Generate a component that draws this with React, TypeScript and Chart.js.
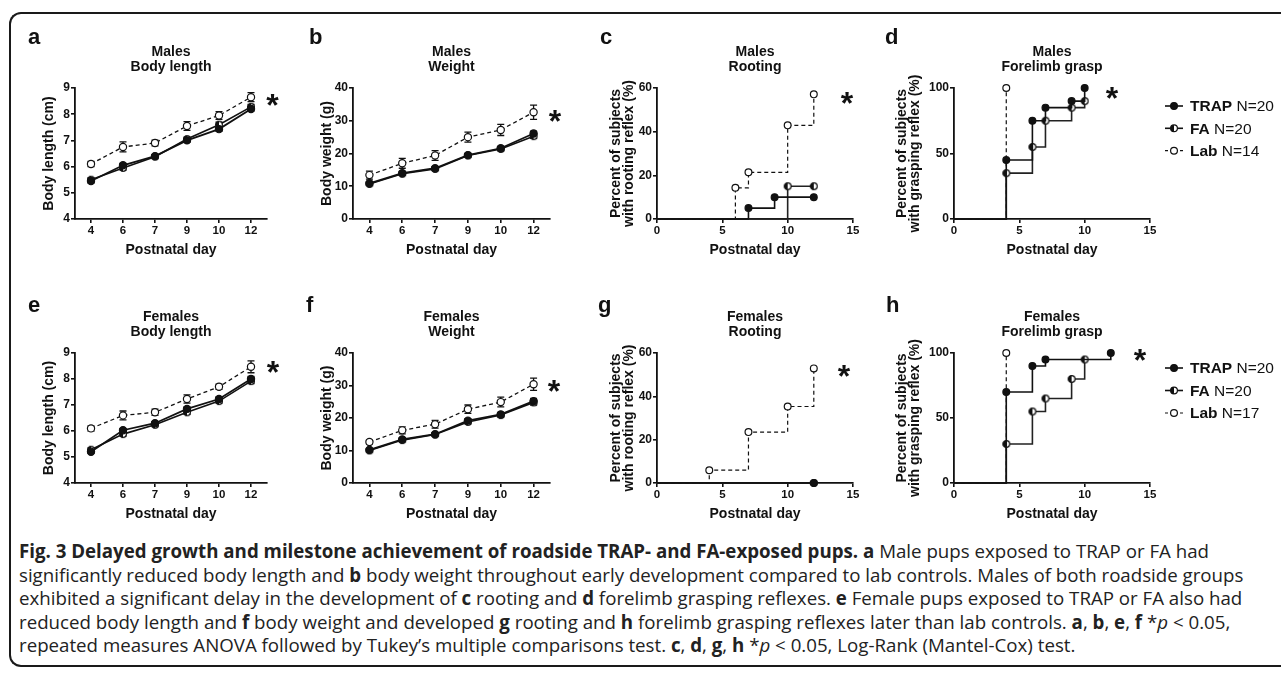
import React, { useEffect, useRef } from 'react';
import { Chart, registerables } from 'chart.js';

Chart.register(...registerables);

const FONT = '"Liberation Sans", Arial, Helvetica, sans-serif';
Chart.defaults.font.family = FONT;
Chart.defaults.color = '#111';

// ---------- Growth panels (a, b, e, f) ----------
const growthDays = ['4', '6', '7', '9', '10', '12'];

const maleLenTRAP = [5.45, 6.05, 6.4, 7.0, 7.43, 8.2];
const maleLenTRAPErr = [0.08, 0.07, 0.06, 0.07, 0.08, 0.08];
const maleLenFA = [5.5, 5.95, 6.38, 7.05, 7.6, 8.28];
const maleLenFAErr = [0.08, 0.08, 0.07, 0.07, 0.1, 0.09];
const maleLenLab = [6.1, 6.75, 6.9, 7.55, 7.95, 8.65];
const maleLenLabErr = [0.1, 0.19, 0.11, 0.17, 0.15, 0.17];

const maleWtTRAP = [10.9, 14.0, 15.5, 19.5, 21.6, 26.1];
const maleWtTRAPErr = [0.4, 0.5, 0.5, 0.5, 0.6, 0.7];
const maleWtFA = [10.7, 13.8, 15.3, 19.4, 21.4, 25.3];
const maleWtFAErr = [0.4, 0.5, 0.5, 0.5, 0.6, 0.7];
const maleWtLab = [13.4, 17.0, 19.4, 25.0, 27.2, 32.6];
const maleWtLabErr = [1.2, 1.5, 1.5, 1.5, 1.7, 2.2];

const femLenTRAP = [5.2, 6.03, 6.3, 6.85, 7.23, 8.0];
const femLenTRAPErr = [0.06, 0.06, 0.06, 0.08, 0.08, 0.1];
const femLenFA = [5.28, 5.88, 6.24, 6.72, 7.15, 7.92];
const femLenFAErr = [0.07, 0.08, 0.07, 0.08, 0.08, 0.1];
const femLenLab = [6.1, 6.6, 6.72, 7.23, 7.7, 8.47];
const femLenLabErr = [0.1, 0.17, 0.12, 0.16, 0.1, 0.23];

const femWtTRAP = [10.2, 13.4, 15.0, 19.2, 21.1, 25.2];
const femWtTRAPErr = [0.4, 0.5, 0.5, 0.6, 0.6, 0.8];
const femWtFA = [10.0, 13.2, 14.9, 18.8, 20.9, 24.8];
const femWtFAErr = [0.4, 0.5, 0.5, 0.6, 0.6, 0.8];
const femWtLab = [12.6, 16.2, 18.1, 22.7, 24.9, 30.4];
const femWtLabErr = [0.6, 1.1, 1.2, 1.3, 1.5, 1.9];

// ---------- Kaplan-Meier panels (c, d, g, h) ----------
const mRootTrapDay = [0, 7, 9, 12];
const mRootTrapPct = [0, 5, 10, 10];
const mRootFaDay = [0, 10, 12];
const mRootFaPct = [0, 15, 15];
const mRootLabDay = [0, 6, 7, 10, 12];
const mRootLabPct = [0, 14.3, 21.4, 42.9, 57.1];

const mGraspTrapDay = [0, 4, 6, 7, 9, 10];
const mGraspTrapPct = [0, 45, 75, 85, 90, 100];
const mGraspFaDay = [0, 4, 6, 7, 9, 10];
const mGraspFaPct = [0, 35, 55, 75, 85, 90];
const mGraspLabDay = [0, 4];
const mGraspLabPct = [0, 100];

const fRootTrapDay = [0, 12];
const fRootTrapPct = [0, 0];
const fRootFaDay = [0, 12];
const fRootFaPct = [0, 0];
const fRootLabDay = [0, 4, 7, 10, 12];
const fRootLabPct = [0, 5.9, 23.5, 35.3, 52.9];

const fGraspTrapDay = [0, 4, 6, 7, 12];
const fGraspTrapPct = [0, 70, 90, 95, 100];
const fGraspFaDay = [0, 4, 6, 7, 9, 10];
const fGraspFaPct = [0, 30, 55, 65, 80, 95];
const fGraspLabDay = [0, 4];
const fGraspLabPct = [0, 100];

const legendMales = [
  { name: 'TRAP', n: 'N=20', kind: 'trap' },
  { name: 'FA', n: 'N=20', kind: 'fa' },
  { name: 'Lab', n: 'N=14', kind: 'lab' },
];
const legendFemales = [
  { name: 'TRAP', n: 'N=20', kind: 'trap' },
  { name: 'FA', n: 'N=20', kind: 'fa' },
  { name: 'Lab', n: 'N=17', kind: 'lab' },
];

const INK = '#111';
const MR = 3.4;

function halfMarker(): HTMLCanvasElement {
  const c = document.createElement('canvas');
  c.width = 10;
  c.height = 10;
  const g = c.getContext('2d')!;
  g.beginPath();
  g.arc(5, 5, MR, 0, Math.PI * 2);
  g.fillStyle = '#fff';
  g.fill();
  g.beginPath();
  g.moveTo(5, 5);
  g.arc(5, 5, MR, Math.PI / 2, Math.PI * 1.5);
  g.closePath();
  g.fillStyle = INK;
  g.fill();
  g.beginPath();
  g.arc(5, 5, MR, 0, Math.PI * 2);
  g.lineWidth = 1.2;
  g.strokeStyle = INK;
  g.stroke();
  return c;
}

function drawMarker(ctx: CanvasRenderingContext2D, kind: string, x: number, y: number) {
  ctx.save();
  ctx.beginPath();
  ctx.arc(x, y, MR, 0, Math.PI * 2);
  ctx.fillStyle = kind === 'trap' ? INK : '#fff';
  ctx.fill();
  if (kind === 'fa') {
    ctx.beginPath();
    ctx.moveTo(x, y);
    ctx.arc(x, y, MR, Math.PI / 2, Math.PI * 1.5);
    ctx.closePath();
    ctx.fillStyle = INK;
    ctx.fill();
  }
  ctx.beginPath();
  ctx.arc(x, y, MR, 0, Math.PI * 2);
  ctx.lineWidth = 1.2;
  ctx.strokeStyle = INK;
  ctx.stroke();
  ctx.restore();
}

const errorBarPlugin = {
  id: 'errorBars',
  beforeDatasetsDraw(chart: any) {
    const ctx = chart.ctx;
    const ys = chart.scales.y;
    chart.data.datasets.forEach((ds: any, i: number) => {
      if (!ds.errors) return;
      const meta = chart.getDatasetMeta(i);
      meta.data.forEach((pt: any, j: number) => {
        const v = ds.data[j];
        const e = ds.errors[j];
        const y1 = ys.getPixelForValue(v - e);
        const y2 = ys.getPixelForValue(v + e);
        ctx.save();
        ctx.strokeStyle = INK;
        ctx.lineWidth = 1.3;
        ctx.beginPath();
        ctx.moveTo(pt.x, y1);
        ctx.lineTo(pt.x, y2);
        ctx.moveTo(pt.x - 3.5, y1);
        ctx.lineTo(pt.x + 3.5, y1);
        ctx.moveTo(pt.x - 3.5, y2);
        ctx.lineTo(pt.x + 3.5, y2);
        ctx.stroke();
        ctx.restore();
      });
    });
  },
};

const decorPlugin = {
  id: 'decor',
  afterDraw(chart: any, _args: any, o: any) {
    const ctx: CanvasRenderingContext2D = chart.ctx;
    const ca = chart.chartArea;
    ctx.save();
    ctx.fillStyle = INK;
    // panel letter
    ctx.font = `bold 22px ${FONT}`;
    ctx.textAlign = 'left';
    ctx.textBaseline = 'alphabetic';
    ctx.fillText(o.letter, o.letterX - o.ox, o.letterY - o.oy);
    // panel title
    ctx.font = `bold 14px ${FONT}`;
    ctx.textAlign = 'center';
    ctx.textBaseline = 'middle';
    const cx = (ca.left + ca.right) / 2;
    o.title.forEach((t: string, i: number) => ctx.fillText(t, cx, ca.top - 36 + i * 15.6));
    // significance star
    ctx.font = `bold 32px ${FONT}`;
    ctx.textBaseline = 'alphabetic';
    ctx.fillText('*', o.star[0] - o.ox, o.star[1] - o.oy + 18.5);
    // legend
    if (o.legend) {
      o.legend.forEach((e: any, i: number) => {
        const y = o.legendY[i] - o.oy;
        const x0 = o.legendX - o.ox;
        ctx.save();
        ctx.strokeStyle = INK;
        ctx.lineWidth = 1.6;
        if (e.kind === 'lab') {
          ctx.setLineDash([3, 2]);
          ctx.lineWidth = 1.2;
        }
        ctx.beginPath();
        ctx.moveTo(x0, y);
        ctx.lineTo(x0 + 18, y);
        ctx.stroke();
        ctx.restore();
        drawMarker(ctx, e.kind, x0 + 9, y);
        ctx.textAlign = 'left';
        ctx.textBaseline = 'middle';
        ctx.fillStyle = INK;
        ctx.font = `bold 15.5px ${FONT}`;
        ctx.fillText(e.name, x0 + 25, y + 1);
        const w = ctx.measureText(e.name + ' ').width;
        ctx.font = `15.5px ${FONT}`;
        ctx.fillText(e.n, x0 + 25 + w, y + 1);
      });
    }
    ctx.restore();
  },
};

type Panel = {
  key: string;
  L: number; T: number; R: number; B: number; padR: number;
  kind: 'growth' | 'km';
  yMin: number; yMax: number; yStep: number;
  yTitle: string | string[];
  yTitleX: number;
  datasets: any[];
  letter: string; letterX: number; letterY: number;
  title: string[];
  star: [number, number];
  legend?: any[];
  legendY?: number[];
};

const YW = 70;
const TOPPAD = 75;

function growthSets(trap: number[], te: number[], fa: number[], fe: number[], lab: number[], le: number[], half: HTMLCanvasElement) {
  return [
    { label: 'TRAP', data: trap, errors: te, borderColor: INK, borderWidth: 1.8, pointRadius: 3.6, pointBackgroundColor: INK, pointBorderColor: INK, pointBorderWidth: 1.2, clip: false },
    { label: 'FA', data: fa, errors: fe, borderColor: INK, borderWidth: 1.6, pointRadius: 3.6, pointStyle: half, clip: false },
    { label: 'Lab', data: lab, errors: le, borderColor: INK, borderWidth: 1.3, borderDash: [4, 3], pointRadius: 3.6, pointBackgroundColor: '#fff', pointBorderColor: INK, pointBorderWidth: 1.2, clip: false },
  ];
}

function pts(days: number[], pct: number[]) {
  return days.map((d, i) => ({ x: d, y: pct[i] }));
}

function kmSets(td: number[], tp: number[], fd: number[], fp: number[], ld: number[], lp: number[], half: HTMLCanvasElement) {
  const rad = (n: number) => Array.from({ length: n }, (_, i) => (i === 0 ? 0 : MR));
  return [
    { label: 'TRAP', data: pts(td, tp), stepped: 'before', borderColor: INK, borderWidth: 1.6, pointRadius: rad(td.length), pointBackgroundColor: INK, pointBorderColor: INK, pointBorderWidth: 1.2, clip: false },
    { label: 'FA', data: pts(fd, fp), stepped: 'before', borderColor: '#222', borderWidth: 1.6, pointRadius: rad(fd.length), pointStyle: half, clip: false },
    { label: 'Lab', data: pts(ld, lp), stepped: 'before', borderColor: INK, borderWidth: 1.2, borderDash: [4, 3], pointRadius: rad(ld.length), pointBackgroundColor: '#fff', pointBorderColor: INK, pointBorderWidth: 1.2, clip: false },
  ];
}

function canvasBox(p: Panel) {
  const left = p.L - YW;
  const top = p.T - TOPPAD;
  const width = p.R + p.padR - left;
  const height = p.B + 44 - top;
  return { left, top, width, height };
}

function buildConfig(p: Panel): any {
  const box = canvasBox(p);
  const tickFont = { size: 11.5, weight: 'bold' as const };
  const gridCommon = { drawOnChartArea: false, drawTicks: true, tickLength: 4, color: INK, lineWidth: 1.6 };
  const borderCommon = { display: true, color: INK, width: 1.8 };
  const yLH = 13.5;
  const xScale =
    p.kind === 'growth'
      ? {
          type: 'category',
          offset: true,
          grid: { ...gridCommon, offset: false },
          border: borderCommon,
          ticks: { font: tickFont, padding: 1, maxRotation: 0, autoSkip: false, color: INK },
          title: { display: true, text: 'Postnatal day', color: INK, font: { size: 14, weight: 'bold', lineHeight: '14px' }, padding: { top: 0, bottom: 1.5 } },
          afterFit: (s: any) => { s.height = 40; },
        }
      : {
          type: 'linear',
          min: 0,
          max: 15,
          grid: gridCommon,
          border: borderCommon,
          ticks: { stepSize: 5, font: tickFont, padding: 1, maxRotation: 0, color: INK },
          title: { display: true, text: 'Postnatal day', color: INK, font: { size: 14, weight: 'bold', lineHeight: '14px' }, padding: { top: 0, bottom: 1.5 } },
          afterFit: (s: any) => { s.height = 40; },
        };
  return {
    type: 'line',
    data: {
      labels: p.kind === 'growth' ? growthDays : undefined,
      datasets: p.datasets,
    },
    options: {
      responsive: false,
      animation: false,
      devicePixelRatio: 1,
      events: [],
      layout: { padding: { left: 0, top: TOPPAD, right: p.padR, bottom: 4 } },
      plugins: {
        legend: { display: false },
        tooltip: { enabled: false },
        title: { display: false },
        decor: {
          ox: box.left, oy: box.top,
          letter: p.letter, letterX: p.letterX, letterY: p.letterY,
          title: p.title, star: p.star,
          legend: p.legend, legendY: p.legendY, legendX: 1165,
        },
      },
      scales: {
        x: xScale,
        y: {
          type: 'linear',
          min: p.yMin,
          max: p.yMax,
          grid: gridCommon,
          border: borderCommon,
          ticks: { stepSize: p.yStep, font: { size: 12, weight: 'bold' }, padding: 1, color: INK },
          title: {
            display: true,
            text: p.yTitle,
            color: INK,
            font: { size: 14, weight: 'bold', lineHeight: `${yLH}px` },
            padding: { top: p.yTitleX - box.left - yLH / 2, bottom: 0 },
          },
          afterFit: (s: any) => { s.width = YW; },
        },
      },
    },
    plugins: [errorBarPlugin, decorPlugin],
  };
}

function makePanels(half: HTMLCanvasElement): Panel[] {
  const top = { T: 88, B: 219 };
  const bot = { T: 353, B: 483 };
  const pctTitle = (w: string) => ['Percent of subjects', `with ${w} reflex (%)`];
  return [
    { key: 'a', L: 75, R: 267, ...top, padR: 24, kind: 'growth', yMin: 4, yMax: 9, yStep: 1, yTitle: 'Body length (cm)', yTitleX: 49,
      datasets: growthSets(maleLenTRAP, maleLenTRAPErr, maleLenFA, maleLenFAErr, maleLenLab, maleLenLabErr, half),
      letter: 'a', letterX: 28, letterY: 44, title: ['Males', 'Body length'], star: [272.5, 97] },
    { key: 'b', L: 353, R: 550, ...top, padR: 20, kind: 'growth', yMin: 0, yMax: 40, yStep: 10, yTitle: 'Body weight (g)', yTitleX: 327,
      datasets: growthSets(maleWtTRAP, maleWtTRAPErr, maleWtFA, maleWtFAErr, maleWtLab, maleWtLabErr, half),
      letter: 'b', letterX: 309, letterY: 44, title: ['Males', 'Weight'], star: [555, 113] },
    { key: 'c', L: 657, R: 853, ...top, padR: 14, kind: 'km', yMin: 0, yMax: 60, yStep: 20, yTitle: pctTitle('rooting'), yTitleX: 616,
      datasets: kmSets(mRootTrapDay, mRootTrapPct, mRootFaDay, mRootFaPct, mRootLabDay, mRootLabPct, half),
      letter: 'c', letterX: 600, letterY: 44, title: ['Males', 'Rooting'], star: [847, 95] },
    { key: 'd', L: 954, R: 1150, ...top, padR: 131, kind: 'km', yMin: 0, yMax: 100, yStep: 50, yTitle: pctTitle('grasping'), yTitleX: 902,
      datasets: kmSets(mGraspTrapDay, mGraspTrapPct, mGraspFaDay, mGraspFaPct, mGraspLabDay, mGraspLabPct, half),
      letter: 'd', letterX: 885, letterY: 44, title: ['Males', 'Forelimb grasp'], star: [1112, 90],
      legend: legendMales, legendY: [106, 128.3, 150.7] },
    { key: 'e', L: 75, R: 267, ...bot, padR: 24, kind: 'growth', yMin: 4, yMax: 9, yStep: 1, yTitle: 'Body length (cm)', yTitleX: 49,
      datasets: growthSets(femLenTRAP, femLenTRAPErr, femLenFA, femLenFAErr, femLenLab, femLenLabErr, half),
      letter: 'e', letterX: 28, letterY: 312, title: ['Females', 'Body length'], star: [273, 364] },
    { key: 'f', L: 353, R: 550, ...bot, padR: 20, kind: 'growth', yMin: 0, yMax: 40, yStep: 10, yTitle: 'Body weight (g)', yTitleX: 327,
      datasets: growthSets(femWtTRAP, femWtTRAPErr, femWtFA, femWtFAErr, femWtLab, femWtLabErr, half),
      letter: 'f', letterX: 306, letterY: 312, title: ['Females', 'Weight'], star: [554, 383] },
    { key: 'g', L: 657, R: 853, ...bot, padR: 14, kind: 'km', yMin: 0, yMax: 60, yStep: 20, yTitle: pctTitle('rooting'), yTitleX: 616,
      datasets: kmSets(fRootTrapDay, fRootTrapPct, fRootFaDay, fRootFaPct, fRootLabDay, fRootLabPct, half),
      letter: 'g', letterX: 598, letterY: 312, title: ['Females', 'Rooting'], star: [844, 368] },
    { key: 'h', L: 954, R: 1150, ...bot, padR: 131, kind: 'km', yMin: 0, yMax: 100, yStep: 50, yTitle: pctTitle('grasping'), yTitleX: 902,
      datasets: kmSets(fGraspTrapDay, fGraspTrapPct, fGraspFaDay, fGraspFaPct, fGraspLabDay, fGraspLabPct, half),
      letter: 'h', letterX: 886, letterY: 312, title: ['Females', 'Forelimb grasp'], star: [1140, 352],
      legend: legendFemales, legendY: [368, 390.5, 413] },
  ];
}

function PanelCanvas({ panel }: { panel: Panel }) {
  const ref = useRef<HTMLCanvasElement | null>(null);
  const box = canvasBox(panel);
  useEffect(() => {
    if (!ref.current) return;
    const chart = new Chart(ref.current, buildConfig(panel));
    return () => chart.destroy();
  }, [panel]);
  return (
    <canvas
      ref={ref}
      width={box.width}
      height={box.height}
      style={{ position: 'absolute', left: box.left, top: box.top, width: box.width, height: box.height }}
    />
  );
}

const B = ({ children }: { children: React.ReactNode }) => <b style={{ fontWeight: 700 }}>{children}</b>;

export default function App() {
  const panelsRef = useRef<Panel[] | null>(null);
  if (!panelsRef.current) panelsRef.current = makePanels(halfMarker());
  const panels = panelsRef.current;
  const capStyle: React.CSSProperties = {
    position: 'absolute',
    left: 19,
    whiteSpace: 'nowrap',
    fontFamily: '"Open Sans", "Noto Sans", sans-serif',
    fontSize: 18.7,
    lineHeight: '23.5px',
    color: '#222',
  };
  const capTop = 539;
  const lh = 23.5;
  return (
    <div style={{ position: 'absolute', left: 0, top: 0, width: 1281, height: 680, background: '#fff', overflow: 'hidden' }}>
      <div style={{ position: 'absolute', left: 9, top: 12, width: 1300, height: 655, border: '2.5px solid #1a1a1a', borderRight: 'none', borderRadius: '12px 0 0 12px', boxSizing: 'border-box' }} />
      {panels.map((p) => (
        <PanelCanvas key={p.key} panel={p} />
      ))}
      <div style={{ ...capStyle, top: capTop }}>
        <B>Fig. 3 Delayed growth and milestone achievement of roadside TRAP- and FA-exposed pups.</B> <B>a</B> Male pups exposed to TRAP or FA had
      </div>
      <div style={{ ...capStyle, top: capTop + lh }}>
        significantly reduced body length and <B>b</B> body weight throughout early development compared to lab controls. Males of both roadside groups
      </div>
      <div style={{ ...capStyle, top: capTop + 2 * lh }}>
        exhibited a significant delay in the development of <B>c</B> rooting and <B>d</B> forelimb grasping reflexes. <B>e</B> Female pups exposed to TRAP or FA also had
      </div>
      <div style={{ ...capStyle, top: capTop + 3 * lh }}>
        reduced body length and <B>f</B> body weight and developed <B>g</B> rooting and <B>h</B> forelimb grasping reflexes later than lab controls. <B>a</B>, <B>b</B>, <B>e</B>, <B>f</B> *<i>p</i> &lt; 0.05,
      </div>
      <div style={{ ...capStyle, top: capTop + 4 * lh }}>
        repeated measures ANOVA followed by Tukey’s multiple comparisons test. <B>c</B>, <B>d</B>, <B>g</B>, <B>h</B> *<i>p</i> &lt; 0.05, Log-Rank (Mantel-Cox) test.
      </div>
    </div>
  );
}
